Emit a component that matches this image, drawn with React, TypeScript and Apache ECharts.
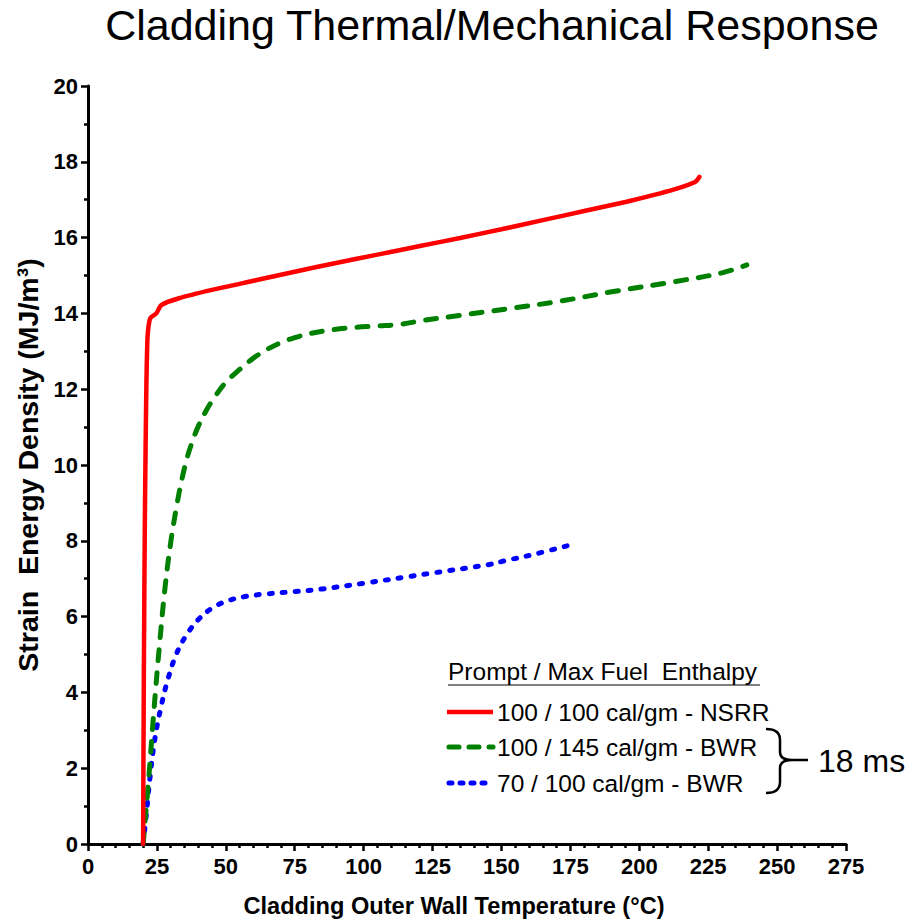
import React, { useEffect, useRef } from "react";
import * as echarts from "echarts";

const xTicks = [0, 25, 50, 75, 100, 125, 150, 175, 200, 225, 250, 275];
const yTicks = [0, 2, 4, 6, 8, 10, 12, 14, 16, 18, 20];

const seriesNames = [
  "100 / 100 cal/gm - NSRR",
  "100 / 145 cal/gm - BWR",
  "70 / 100 cal/gm - BWR",
];

const nsrr: [number, number][] = [
  [20, 0], [20.1, 2], [20.3, 5], [20.6, 8.3], [20.9, 10.5], [21.2, 12.2],
  [21.5, 13.2], [21.8, 13.56], [22.6, 13.87], [24.8, 14.0], [26.6, 14.22],
  [33, 14.4], [45, 14.62], [60, 14.86], [75, 15.1], [90, 15.33], [105, 15.55],
  [120, 15.77], [135, 15.99], [150, 16.22], [165, 16.46], [180, 16.7],
  [195, 16.94], [205, 17.12], [213, 17.28], [218, 17.4], [220.5, 17.48],
  [221.8, 17.6],
];

const bwr145: [number, number][] = [
  [20, 0], [22, 1.7], [24, 3.6], [26, 5.3], [28, 6.8], [30, 7.95], [32, 8.85],
  [34, 9.6], [36, 10.2], [38, 10.65], [40, 11.02], [43, 11.45], [46, 11.8],
  [50, 12.18], [55, 12.52], [60, 12.82], [65, 13.05], [70, 13.23], [75, 13.36],
  [80, 13.46], [87, 13.55], [95, 13.62], [105, 13.67], [113, 13.71],
  [122, 13.82], [132, 13.92], [153, 14.13], [171, 14.32], [190, 14.57],
  [213, 14.84], [230, 15.07], [239, 15.28],
];

const bwr70: [number, number][] = [
  [20, 0], [21.2, 0.81], [22.4, 1.69], [24.2, 2.75], [26.6, 3.65], [29, 4.35],
  [32, 5.0], [35.6, 5.5], [40.4, 5.95], [45, 6.22], [50, 6.4], [57, 6.53],
  [65, 6.6], [75, 6.66], [85, 6.73], [100, 6.88], [115, 7.04], [125, 7.15],
  [146, 7.38], [151, 7.47], [161, 7.63], [175.5, 7.9],
];

const colors = ["#ff0000", "#008000", "#0000ff"];
const FONT = "'Liberation Sans', Arial, sans-serif";

let braceRegistered = false;
function registerBrace() {
  if (braceRegistered) return;
  const d =
    "M766,729 Q780,729 780,740 L780,752 Q780,760 792,760 L808,760 M792,760 Q780,760 780,768 L780,782 Q780,793 766,793";
  echarts.graphic.registerShape("brace", echarts.graphic.extendPath(d, {}) as any);
  braceRegistered = true;
}

export default function App() {
  const ref = useRef<HTMLDivElement>(null);

  useEffect(() => {
    if (!ref.current) return;
    registerBrace();
    const chart = echarts.init(ref.current, undefined, { renderer: "svg" });

    const legendX1 = 447;
    const legendX2 = 493;
    const legendRows = [712, 747, 783];

    const option: any = {
      animation: false,
      backgroundColor: "#ffffff",
      grid: { left: 88, right: 73, top: 86, bottom: 78, containLabel: false },
      xAxis: {
        type: "value",
        min: 0,
        max: 275,
        interval: 25,
        axisLine: { onZero: false, lineStyle: { color: "#000", width: 3 } },
        axisTick: { show: true, inside: false, length: 7, lineStyle: { color: "#000", width: 2.5 } },
        minorTick: { show: true, splitNumber: 5, length: 4, lineStyle: { color: "#000", width: 2.5 } },
        splitLine: { show: false },
        axisLabel: {
          margin: 11,
          fontFamily: FONT,
          fontWeight: "bold",
          fontSize: 22,
          color: "#000",
          formatter: (v: number) => (xTicks.includes(v) ? String(v) : ""),
        },
      },
      yAxis: {
        type: "value",
        min: 0,
        max: 20,
        interval: 2,
        name: "Strain  Energy Density (MJ/m³)",
        nameLocation: "middle",
        nameRotate: 90,
        nameGap: 45,
        nameTextStyle: { fontFamily: FONT, fontWeight: "bold", fontSize: 28.5, color: "#000" },
        axisLine: { onZero: false, lineStyle: { color: "#000", width: 3 } },
        axisTick: { show: true, inside: false, length: 7, lineStyle: { color: "#000", width: 2.5 } },
        minorTick: { show: true, splitNumber: 2, length: 4, lineStyle: { color: "#000", width: 2.5 } },
        splitLine: { show: false },
        axisLabel: {
          margin: 10,
          fontFamily: FONT,
          fontWeight: "bold",
          fontSize: 22,
          color: "#000",
          formatter: (v: number) => (yTicks.includes(v) ? String(v) : ""),
        },
      },
      series: [
        {
          name: seriesNames[0],
          type: "line",
          data: nsrr,
          showSymbol: false,
          smooth: 0.25,
          lineStyle: { color: colors[0], width: 4.5, cap: "round" },
          z: 3,
        },
        {
          name: seriesNames[1],
          type: "line",
          data: bwr145,
          showSymbol: false,
          smooth: 0.4,
          lineStyle: { color: colors[1], width: 5, type: [11, 12], cap: "round" },
          z: 2,
        },
        {
          name: seriesNames[2],
          type: "line",
          data: bwr70,
          showSymbol: false,
          smooth: 0.4,
          lineStyle: { color: colors[2], width: 5, type: [3, 10], cap: "round" },
          z: 1,
        },
      ],
      graphic: [
        {
          type: "text",
          x: 492,
          y: 25,
          style: {
            text: "Cladding Thermal/Mechanical Response",
            fontFamily: FONT,
            fontSize: 43,
            fill: "#000",
            textAlign: "center",
            textVerticalAlign: "middle",
          },
        },
        {
          type: "text",
          x: 454,
          y: 906,
          style: {
            text: "Cladding Outer Wall Temperature (°C)",
            fontFamily: FONT,
            fontWeight: "bold",
            fontSize: 23.6,
            fill: "#000",
            textAlign: "center",
            textVerticalAlign: "middle",
          },
        },
        {
          type: "text",
          x: 448,
          y: 671,
          style: {
            text: "Prompt / Max Fuel  Enthalpy",
            fontFamily: FONT,
            fontSize: 24.5,
            fill: "#000",
            textAlign: "left",
            textVerticalAlign: "middle",
          },
        },
        {
          type: "line",
          shape: { x1: 448, y1: 685, x2: 760, y2: 685 },
          style: { stroke: "#000", lineWidth: 1.2 },
        },
        {
          type: "line",
          shape: { x1: legendX1, y1: legendRows[0], x2: legendX2, y2: legendRows[0] },
          style: { stroke: colors[0], lineWidth: 4.5 },
        },
        {
          type: "line",
          shape: { x1: legendX1 + 2, y1: legendRows[1], x2: legendX2, y2: legendRows[1] },
          style: { stroke: colors[1], lineWidth: 5, lineDash: [10, 10], lineCap: "round" },
        },
        {
          type: "line",
          shape: { x1: legendX1 + 2, y1: legendRows[2], x2: legendX2, y2: legendRows[2] },
          style: { stroke: colors[2], lineWidth: 5, lineDash: [3, 8], lineCap: "round" },
        },
        ...seriesNames.map((n, i) => ({
          type: "text",
          x: 497,
          y: legendRows[i],
          style: {
            text: n,
            fontFamily: FONT,
            fontSize: 24.5,
            fill: "#000",
            textAlign: "left",
            textVerticalAlign: "middle",
          },
        })),
        {
          type: "brace",
          x: 0,
          y: 0,
          style: { stroke: "#000", lineWidth: 2.5, fill: null },
        },
        {
          type: "text",
          x: 818,
          y: 761,
          style: {
            text: "18 ms",
            fontFamily: FONT,
            fontSize: 32,
            fill: "#000",
            textAlign: "left",
            textVerticalAlign: "middle",
          },
        },
      ],
    };

    chart.setOption(option);
    return () => chart.dispose();
  }, []);

  return (
    <div
      ref={ref}
      style={{ position: "absolute", left: 0, top: 0, width: 919, height: 922 }}
    />
  );
}
